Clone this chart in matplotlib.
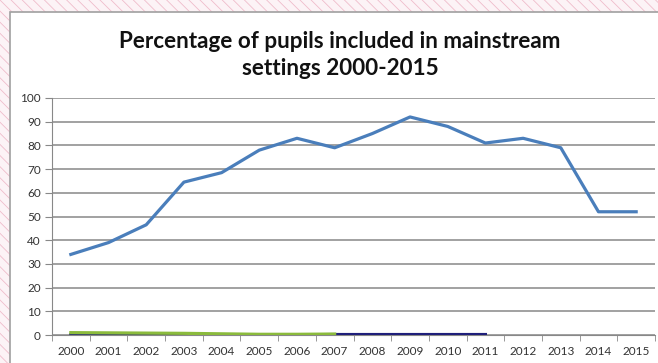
import matplotlib.pyplot as plt
from matplotlib.patches import Rectangle

years = ['2000', '2001', '2002', '2003', '2004', '2005', '2006', '2007',
         '2008', '2009', '2010', '2011', '2012', '2013', '2014', '2015']
mainstream = [34, 39, 46.5, 64.5, 68.5, 78, 83, 79, 85, 92, 88, 81, 83, 79, 52, 52]
green_years = years[:8]
green_vals = [1, 0.9, 0.8, 0.7, 0.5, 0.3, 0.3, 0.4]
navy_years = years[:12]
navy_vals = [0.1, 0.1, 0.1, 0.1, 0.1, 0.1, 0.1, 0.2, 0.2, 0.2, 0.2, 0.2]

plt.rcParams['font.family'] = ['Lato', 'DejaVu Sans']
plt.rcParams['hatch.linewidth'] = 0.6

fig = plt.figure(figsize=(6.58, 3.63), dpi=100)
fig.patch.set_facecolor('#fcf3f6')

# pink hatched background + white chart box
fig.patches.append(Rectangle((0, 0), 1, 1, transform=fig.transFigure,
                             facecolor='none', edgecolor='#efbccb', hatch='\\\\\\',
                             linewidth=0, zorder=0))
fig.patches.append(Rectangle((10 / 658, -0.01), 1, 1 - 12 / 363 + 0.01,
                             transform=fig.transFigure, facecolor='white',
                             edgecolor='#a0a0a0', linewidth=1.2, zorder=1))

ax = fig.add_axes([52 / 658, 1 - 335 / 363, 603 / 658, (335 - 98) / 363])
ax.set_facecolor('none')
ax.set_zorder(2)

x = range(len(years))
ax.plot(x, mainstream, color='#4a7ebb', linewidth=2.3, zorder=4)
ax.plot(range(len(navy_years)), navy_vals, color='#1f1f7a', linewidth=2.3, zorder=3)
ax.plot(range(len(green_years)), green_vals, color='#8bbb3c', linewidth=2.3, zorder=3)

ax.set_xlim(-0.5, len(years) - 0.5)
ax.set_ylim(0, 100)
ax.set_yticks(range(0, 101, 10))
ax.set_xticks(list(x))
ax.set_xticklabels(years)
ax.set_xticks([i + 0.5 for i in range(-1, len(years))], minor=True)
ax.tick_params(axis='x', which='major', length=0, pad=8, labelsize=8.5, labelcolor='#333333')
ax.tick_params(axis='x', which='minor', length=4, color='#888888', direction='out')
ax.tick_params(axis='y', length=5, color='#888888', labelsize=8.5, labelcolor='#333333', pad=3)

ax.grid(axis='y', color='#9a9a9a', linewidth=1.3)
ax.set_axisbelow(True)
for side in ['top', 'right']:
    ax.spines[side].set_visible(False)
ax.spines['left'].set_color('#888888')
ax.spines['bottom'].set_color('#888888')

fig.text(0.517, 1 - 55 / 363, 'Percentage of pupils included in mainstream\nsettings 2000-2015',
         ha='center', va='center', fontsize=16.2, fontweight='bold', color='#111111',
         linespacing=1.3)

fig.savefig('out.png', dpi=100, facecolor=fig.get_facecolor())
